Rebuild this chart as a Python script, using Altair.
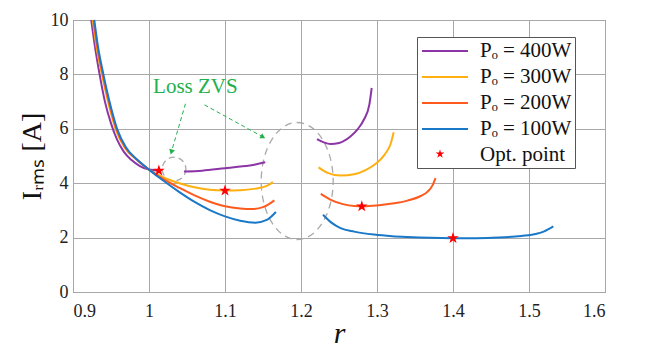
import altair as alt
import pandas as pd

FONT = "Liberation Serif, Times New Roman, serif"

# ---------------- data ----------------
series_names = ["Pₒ = 400W", "Pₒ = 300W", "Pₒ = 200W", "Pₒ = 100W"]
legend_names = series_names + ["Opt. point"]
series_colors = ["#8B35A6", "#FFB010", "#FF5A1E", "#1A78C8", "transparent"]

# 400 W
p400_left_r = [0.924, 0.929, 0.935, 0.942, 0.950, 0.958, 0.967, 0.977, 0.988, 1.0, 1.015]
p400_left_i = [10.0, 9.0, 8.0, 7.0, 6.2, 5.6, 5.15, 4.85, 4.63, 4.5, 4.46]
p400_mid_r = [1.046, 1.07, 1.10, 1.12, 1.14, 1.153]
p400_mid_i = [4.43, 4.46, 4.55, 4.61, 4.69, 4.77]
p400_right_r = [1.221, 1.230, 1.239, 1.250, 1.265, 1.275, 1.283, 1.290, 1.293]
p400_right_i = [5.62, 5.50, 5.44, 5.48, 5.72, 6.00, 6.35, 6.90, 7.50]

# 300 W
p300_left_r = [0.926, 0.931, 0.938, 0.946, 0.956, 0.968, 0.984, 1.0, 1.02, 1.04, 1.06, 1.08, 1.10, 1.12, 1.14, 1.155, 1.163]
p300_left_i = [10.0, 9.0, 8.0, 7.0, 6.0, 5.3, 4.87, 4.5, 4.2, 4.0, 3.85, 3.76, 3.73, 3.74, 3.80, 3.90, 4.04]
p300_right_r = [1.223, 1.235, 1.252, 1.270, 1.285, 1.300, 1.310, 1.318, 1.322]
p300_right_i = [4.58, 4.38, 4.28, 4.33, 4.48, 4.75, 5.05, 5.45, 5.87]

# 200 W
p200_left_r = [0.927, 0.932, 0.939, 0.947, 0.957, 0.969, 0.984, 1.0, 1.02, 1.04, 1.06, 1.08, 1.10, 1.12, 1.135, 1.15, 1.165]
p200_left_i = [10.0, 9.0, 8.0, 7.0, 6.0, 5.3, 4.86, 4.5, 4.13, 3.83, 3.55, 3.32, 3.15, 3.07, 3.05, 3.12, 3.37]
p200_right_r = [1.226, 1.240, 1.255, 1.270, 1.283, 1.300, 1.320, 1.340, 1.357, 1.367, 1.373, 1.377]
p200_right_i = [3.61, 3.38, 3.23, 3.16, 3.15, 3.18, 3.25, 3.36, 3.52, 3.70, 3.92, 4.19]

# 100 W
p100_left_r = [0.928, 0.933, 0.940, 0.948, 0.958, 0.970, 0.985, 1.0, 1.02, 1.04, 1.06, 1.08, 1.10, 1.12, 1.14, 1.155, 1.167]
p100_left_i = [10.0, 9.0, 8.0, 7.0, 6.0, 5.3, 4.85, 4.5, 4.07, 3.67, 3.31, 3.01, 2.78, 2.62, 2.55, 2.65, 2.94]
p100_right_r = [1.229, 1.240, 1.252, 1.270, 1.296, 1.320, 1.340, 1.370, 1.400, 1.430, 1.460, 1.490, 1.510, 1.520, 1.532]
p100_right_i = [2.84, 2.55, 2.35, 2.22, 2.11, 2.05, 2.02, 1.99, 1.98, 1.98, 2.00, 2.06, 2.14, 2.23, 2.41]

# optimal points
opt_r = [1.013, 1.10, 1.28, 1.40]
opt_i = [4.46, 3.73, 3.15, 1.98]

# annotations
note_text = ["Loss ZVS"]
note_r = [1.061]
note_i = [7.54]
arrow_start_r = [1.048, 1.073]
arrow_start_i = [6.92, 6.88]
arrow_end_r = [1.0295, 1.150]
arrow_end_i = [5.15, 5.70]
small_ring_r = [1.033]
small_ring_i = [4.52]
big_ring_r = [1.195]
big_ring_i = [4.08]

x_ticks = [0.9, 1.0, 1.1, 1.2, 1.3, 1.4, 1.5, 1.6]
y_ticks = [0, 2, 4, 6, 8, 10]

STAR = ("M0,-1L0.225,-0.309L0.951,-0.309L0.363,0.118L0.588,0.809L0,0.382"
        "L-0.588,0.809L-0.363,0.118L-0.951,-0.309L-0.225,-0.309Z")

# ---------------- tables ----------------
segs = [
    (series_names[0], "a", p400_left_r, p400_left_i),
    (series_names[0], "b", p400_mid_r, p400_mid_i),
    (series_names[0], "c", p400_right_r, p400_right_i),
    (series_names[1], "a", p300_left_r, p300_left_i),
    (series_names[1], "c", p300_right_r, p300_right_i),
    (series_names[2], "a", p200_left_r, p200_left_i),
    (series_names[2], "c", p200_right_r, p200_right_i),
    (series_names[3], "a", p100_left_r, p100_left_i),
    (series_names[3], "c", p100_right_r, p100_right_i),
]
rows = []
for name, seg, rs, iis in segs:
    for k, (r, i) in enumerate(zip(rs, iis)):
        rows.append({"series": name, "seg": name + seg, "r": r, "I": i, "k": k})
lines_df = pd.DataFrame(rows)

opt_df = pd.DataFrame({"r": opt_r, "I": opt_i, "lab": ["Opt. point"] * len(opt_r)})
note_df = pd.DataFrame({"r": note_r, "I": note_i, "t": note_text})
arrow_df = pd.DataFrame({"r": arrow_start_r, "I": arrow_start_i, "r2": arrow_end_r, "I2": arrow_end_i})
head1_df = pd.DataFrame({"r": arrow_end_r[:1], "I": arrow_end_i[:1]})
head2_df = pd.DataFrame({"r": arrow_end_r[1:], "I": arrow_end_i[1:]})
small_df = pd.DataFrame({"r": small_ring_r, "I": small_ring_i})
big_df = pd.DataFrame({"r": big_ring_r, "I": big_ring_i})

xscale = alt.Scale(domain=[0.9, 1.6], nice=False, zero=False)
yscale = alt.Scale(domain=[0, 10], nice=False)

X = alt.X("r:Q", scale=xscale,
          axis=alt.Axis(values=x_ticks, format="~g", title="r", titleFontStyle="italic",
                        titleFontSize=30, titlePadding=-2, titleFontWeight="normal",
                        labelPadding=10))
Y = alt.Y("I:Q", scale=yscale,
          axis=alt.Axis(values=y_ticks, title="Iᵣₘₛ [A]", titleFontSize=28,
                        titlePadding=4, titleFontWeight="normal", labelPadding=5))

GREEN = "#22B04C"

big_ring = alt.Chart(big_df).mark_point(
    shape="M0,-1A0.615,1,0,1,1,0,1A0.615,1,0,1,1,0,-1Z",
    size=13689, filled=False, stroke="#AAAAAA", strokeWidth=1.3, strokeDash=[7, 5], opacity=1
).encode(x=X, y=Y)

small_ring = alt.Chart(small_df).mark_point(
    shape="circle", size=560, filled=False, stroke="#AAAAAA", strokeWidth=1.3,
    strokeDash=[6, 4], opacity=1
).encode(x=X, y=Y)

arrows = alt.Chart(arrow_df).mark_rule(color=GREEN, strokeWidth=1, strokeDash=[4, 3]).encode(
    x=X, y=Y, x2="r2:Q", y2="I2:Q")

head1 = alt.Chart(head1_df).mark_point(
    shape="triangle-up", size=35, filled=True, color=GREEN, opacity=1, angle=196
).encode(x=X, y=Y)
head2 = alt.Chart(head2_df).mark_point(
    shape="triangle-up", size=35, filled=True, color=GREEN, opacity=1, angle=118
).encode(x=X, y=Y)

note = alt.Chart(note_df).mark_text(
    font=FONT, fontSize=21, color=GREEN, align="center", baseline="middle"
).encode(x=X, y=Y, text="t:N")

lines = alt.Chart(lines_df).mark_line(strokeWidth=2, interpolate="monotone").encode(
    x=X, y=Y, detail="seg:N", order="k:Q",
    color=alt.Color("series:N",
                    scale=alt.Scale(domain=legend_names, range=series_colors),
                    legend=alt.Legend(
                        title=None, orient="none", legendX=344, legendY=17,
                        symbolType="M-2.3,0L2.3,0", symbolSize=400, symbolStrokeWidth=2,
                        symbolOffset=14, labelOffset=24, padding=3, rowPadding=5,
                        labelFont=FONT, labelFontSize=21, labelColor="#111111",
                        labelExpr="datum.label + '   '",
                        strokeColor="#555555", fillColor="white", cornerRadius=0,
                        symbolLimit=10)),
)

stars = alt.Chart(opt_df).mark_point(filled=True, color="#FF0000", opacity=1, size=150).encode(
    x=X, y=Y,
    shape=alt.Shape("lab:N", scale=alt.Scale(domain=["Opt. point"], range=[STAR]),
                    legend=alt.Legend(title=None, orient="none", legendX=362, legendY=129,
                                      symbolSize=85, symbolFillColor="#FF0000",
                                      symbolStrokeColor="#FF0000", symbolStrokeWidth=0,
                                      labelExpr="''", padding=0, symbolOffset=0,
                                      labelOffset=0)),
)

chart = alt.layer(big_ring, small_ring, arrows, head1, head2, note, lines, stars).properties(
    width=532, height=272,
    autosize=alt.AutoSizeParams(type="none"),
    padding={"left": 73, "top": 20, "right": 58, "bottom": 59},
    background="white",
).configure_view(stroke="#606060", strokeWidth=1).configure_axis(
    domain=False, ticks=False, grid=True, gridColor="#A8A8A8", gridWidth=1,
    labelFont=FONT, labelFontSize=18, labelColor="#222222",
    titleFont=FONT, titleColor="#111111",
)

chart.save("out.html", embed_options={"renderer": "svg", "actions": False})
